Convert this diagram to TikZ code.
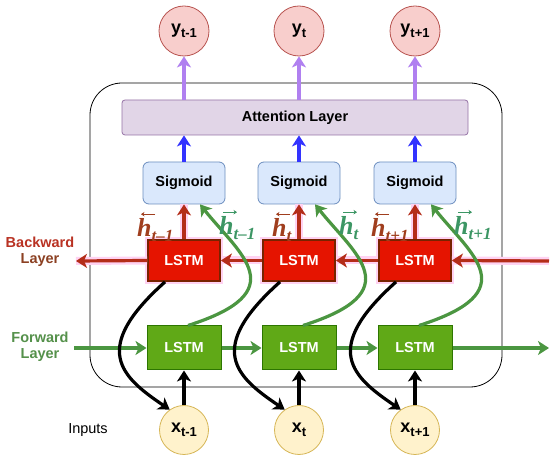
\documentclass[tikz,border=0pt]{standalone}
\usepackage[no-math]{fontspec}
\setmainfont{Liberation Sans}
\newfontfamily\serifbi{Liberation Serif}
\usetikzlibrary{arrows.meta}
\definecolor{bwd}{RGB}{180,45,25}
\definecolor{bwdlab}{RGB}{160,62,30}
\definecolor{bglow}{RGB}{255,210,242}
\definecolor{bwtxtA}{RGB}{185,50,35}
\definecolor{bwtxtB}{RGB}{140,65,35}
\definecolor{fwd}{RGB}{75,150,65}
\definecolor{fwdtxt}{RGB}{85,145,75}
\definecolor{fwdlab}{RGB}{60,150,100}
\definecolor{lstmR}{RGB}{229,20,0}
\definecolor{lstmRb}{RGB}{120,35,0}
\definecolor{lstmG}{RGB}{96,169,23}
\definecolor{lstmGb}{RGB}{45,118,0}
\definecolor{sigF}{RGB}{218,232,252}
\definecolor{sigB}{RGB}{108,142,191}
\definecolor{attF}{RGB}{225,213,231}
\definecolor{attB}{RGB}{150,115,166}
\definecolor{outF}{RGB}{248,206,204}
\definecolor{outB}{RGB}{184,84,80}
\definecolor{inF}{RGB}{255,242,204}
\definecolor{inB}{RGB}{214,182,86}
\definecolor{purp}{RGB}{176,128,240}
\definecolor{blu}{RGB}{51,51,255}
\tikzset{
  arrtip/.style={-{Stealth[length=11pt,width=14pt,inset=3pt]}},
  arr/.style={arrtip, line width=3.2pt},
  txt/.style={font=\fontsize{14.5}{17}\selectfont\bfseries},
  redbox/.style={draw=lstmRb, line width=1.8pt, fill=lstmR, minimum width=72pt, minimum height=41pt, text=white, txt},
  greenbox/.style={draw=lstmGb, line width=1pt, fill=lstmG, minimum width=74pt, minimum height=44pt, text=white, txt},
  sigbox/.style={draw=sigB, line width=0.8pt, fill=sigF, rounded corners=6pt, minimum width=82pt, minimum height=42pt, txt},
  outc/.style={circle, draw=outB, line width=0.8pt, fill=outF, minimum size=50pt, inner sep=0pt},
  inc/.style={circle, draw=inB, line width=0.8pt, fill=inF, minimum size=49pt, inner sep=0pt},
  glow/.style={preaction={draw=bglow, line width=8pt, -}},
  hlabb/.style={text=bwdlab, inner sep=0pt},
  hlabf/.style={text=fwdlab, inner sep=0pt},
  harrow/.style={line width=0.9pt, -{Stealth[length=3.5pt,width=4.5pt]}},
}
\newcommand{\lab}[2]{\textbf{{\fontsize{18}{20}\selectfont #1}\raisebox{-4pt}{\fontsize{13}{15}\selectfont #2}}}
\newcommand{\hl}[1]{{\fontsize{26}{26}\serifbi\bfseries\itshape h}\raisebox{-5pt}{\fontsize{17}{17}\serifbi\bfseries\itshape #1}}
\begin{document}
\begin{tikzpicture}[x=1pt,y=-1pt]
\useasboundingbox (0,0) rectangle (550,462);
\fill[white] (0,0) rectangle (550,462);
% outer frame
\draw[line width=0.8pt, rounded corners=32pt] (90,83) rectangle (502,387);
% attention
\node[draw=attB, line width=0.8pt, fill=attF, rounded corners=3pt, minimum width=346pt, minimum height=35pt, txt] (att) at (295,117.5) {Attention Layer};
% outputs
\node[outc] (y1) at (184,31) {\lab{y}{t-1}};
\node[outc] (y2) at (299,31) {\lab{y}{t}};
\node[outc] (y3) at (415,31) {\lab{y}{t+1}};
% sigmoids
\node[sigbox] (s1) at (184,183) {Sigmoid};
\node[sigbox] (s2) at (299,183) {Sigmoid};
\node[sigbox] (s3) at (415,183) {Sigmoid};
% red LSTM glow
\fill[bglow] (145,237) rectangle (223,284);
\fill[bglow] (260,237) rectangle (338,284);
\fill[bglow] (376,237) rectangle (454,284);
\node[redbox] (r1) at (184,260.5) {LSTM};
\node[redbox] (r2) at (299,260.5) {LSTM};
\node[redbox] (r3) at (415,260.5) {LSTM};
% green LSTM
\node[greenbox] (g1) at (184,348) {LSTM};
\node[greenbox] (g2) at (299,348) {LSTM};
\node[greenbox] (g3) at (415,348) {LSTM};
% inputs
\node[inc] (x1) at (184,430) {\lab{x}{t-1}};
\node[inc] (x2) at (299,430) {\lab{x}{t}};
\node[inc] (x3) at (415,430) {\lab{x}{t+1}};
% side texts
\node[txt, align=center, inner sep=1pt] (bwtxt) at (40,252) {\textcolor{bwtxtA}{Backward}\\[-1pt]\textcolor{bwtxtB}{Layer}};
\node[txt, text=fwdtxt, align=center] (fwtxt) at (40,347) {Forward\\[-1pt]Layer};
\node[font=\fontsize{14.5}{17}\selectfont] (inp) at (88,430) {Inputs};
% coordinates
\coordinate (bR) at (549,261);
\coordinate (bL) at (76,261);
\coordinate (fL) at (74,348);
\coordinate (fR) at (549,348);
% vertical arrows
\foreach \i in {1,2,3}{
  \draw[arr, draw=purp] (att.north -| y\i) -- (y\i.south);
  \draw[arr, draw=blu] (s\i.north) -- (att.south -| s\i);
  \draw[arr, draw=bwd, glow] (r\i.north) -- (s\i.south);
  \draw[arr, draw=black] (x\i.north) -- (g\i.south);
}
% backward chain
\draw[arr, draw=bwd, glow] (bR) -- (r3.east);
\draw[arr, draw=bwd, glow] (r3.west) -- (r2.east);
\draw[arr, draw=bwd, glow] (r2.west) -- (r1.east);
\draw[arr, draw=bwd, glow] (r1.west) -- (bL);
% forward chain
\draw[arr, draw=fwd] (fL) -- (g1.west);
\draw[arr, draw=fwd] (g1.east) -- (g2.west);
\draw[arr, draw=fwd] (g2.east) -- (g3.west);
\draw[arr, draw=fwd] (g3.east) -- (fR);
% black curves and green curves
\foreach \i in {1,2,3}{
  \draw[arr, draw=black] ([xshift=-19pt]r\i.south) .. controls +(-75,67) and +(-49,-33) .. (x\i.125);
  \draw[arr, draw=fwd] ([xshift=4pt]g\i.north) .. controls +(107,-34) and +(40,50) .. ([xshift=16pt]s\i.south);
}
% h labels
\node[hlabb, anchor=west] (hb1) at (137,230) {\hl{t–1}};
\node[hlabf, anchor=west] (hf1) at (219,228) {\hl{t–1}};
\node[hlabb, anchor=west] (hb2) at (272,230) {\hl{t}};
\node[hlabf, anchor=west] (hf2) at (339,228) {\hl{t}};
\node[hlabb, anchor=west] (hb3) at (371,230) {\hl{t+1}};
\node[hlabf, anchor=west] (hf3) at (454,228) {\hl{t+1}};
% arrows over h
\foreach \n in {hb1,hb2,hb3}{
  \draw[harrow, draw=bwdlab] ([shift={(18,-4)}]\n.north west) -- ([shift={(4,-4)}]\n.north west);
}
\foreach \n in {hf1,hf2,hf3}{
  \draw[harrow, draw=fwdlab] ([shift={(4,-4)}]\n.north west) -- ([shift={(18,-4)}]\n.north west);
}
\end{tikzpicture}
\end{document}
